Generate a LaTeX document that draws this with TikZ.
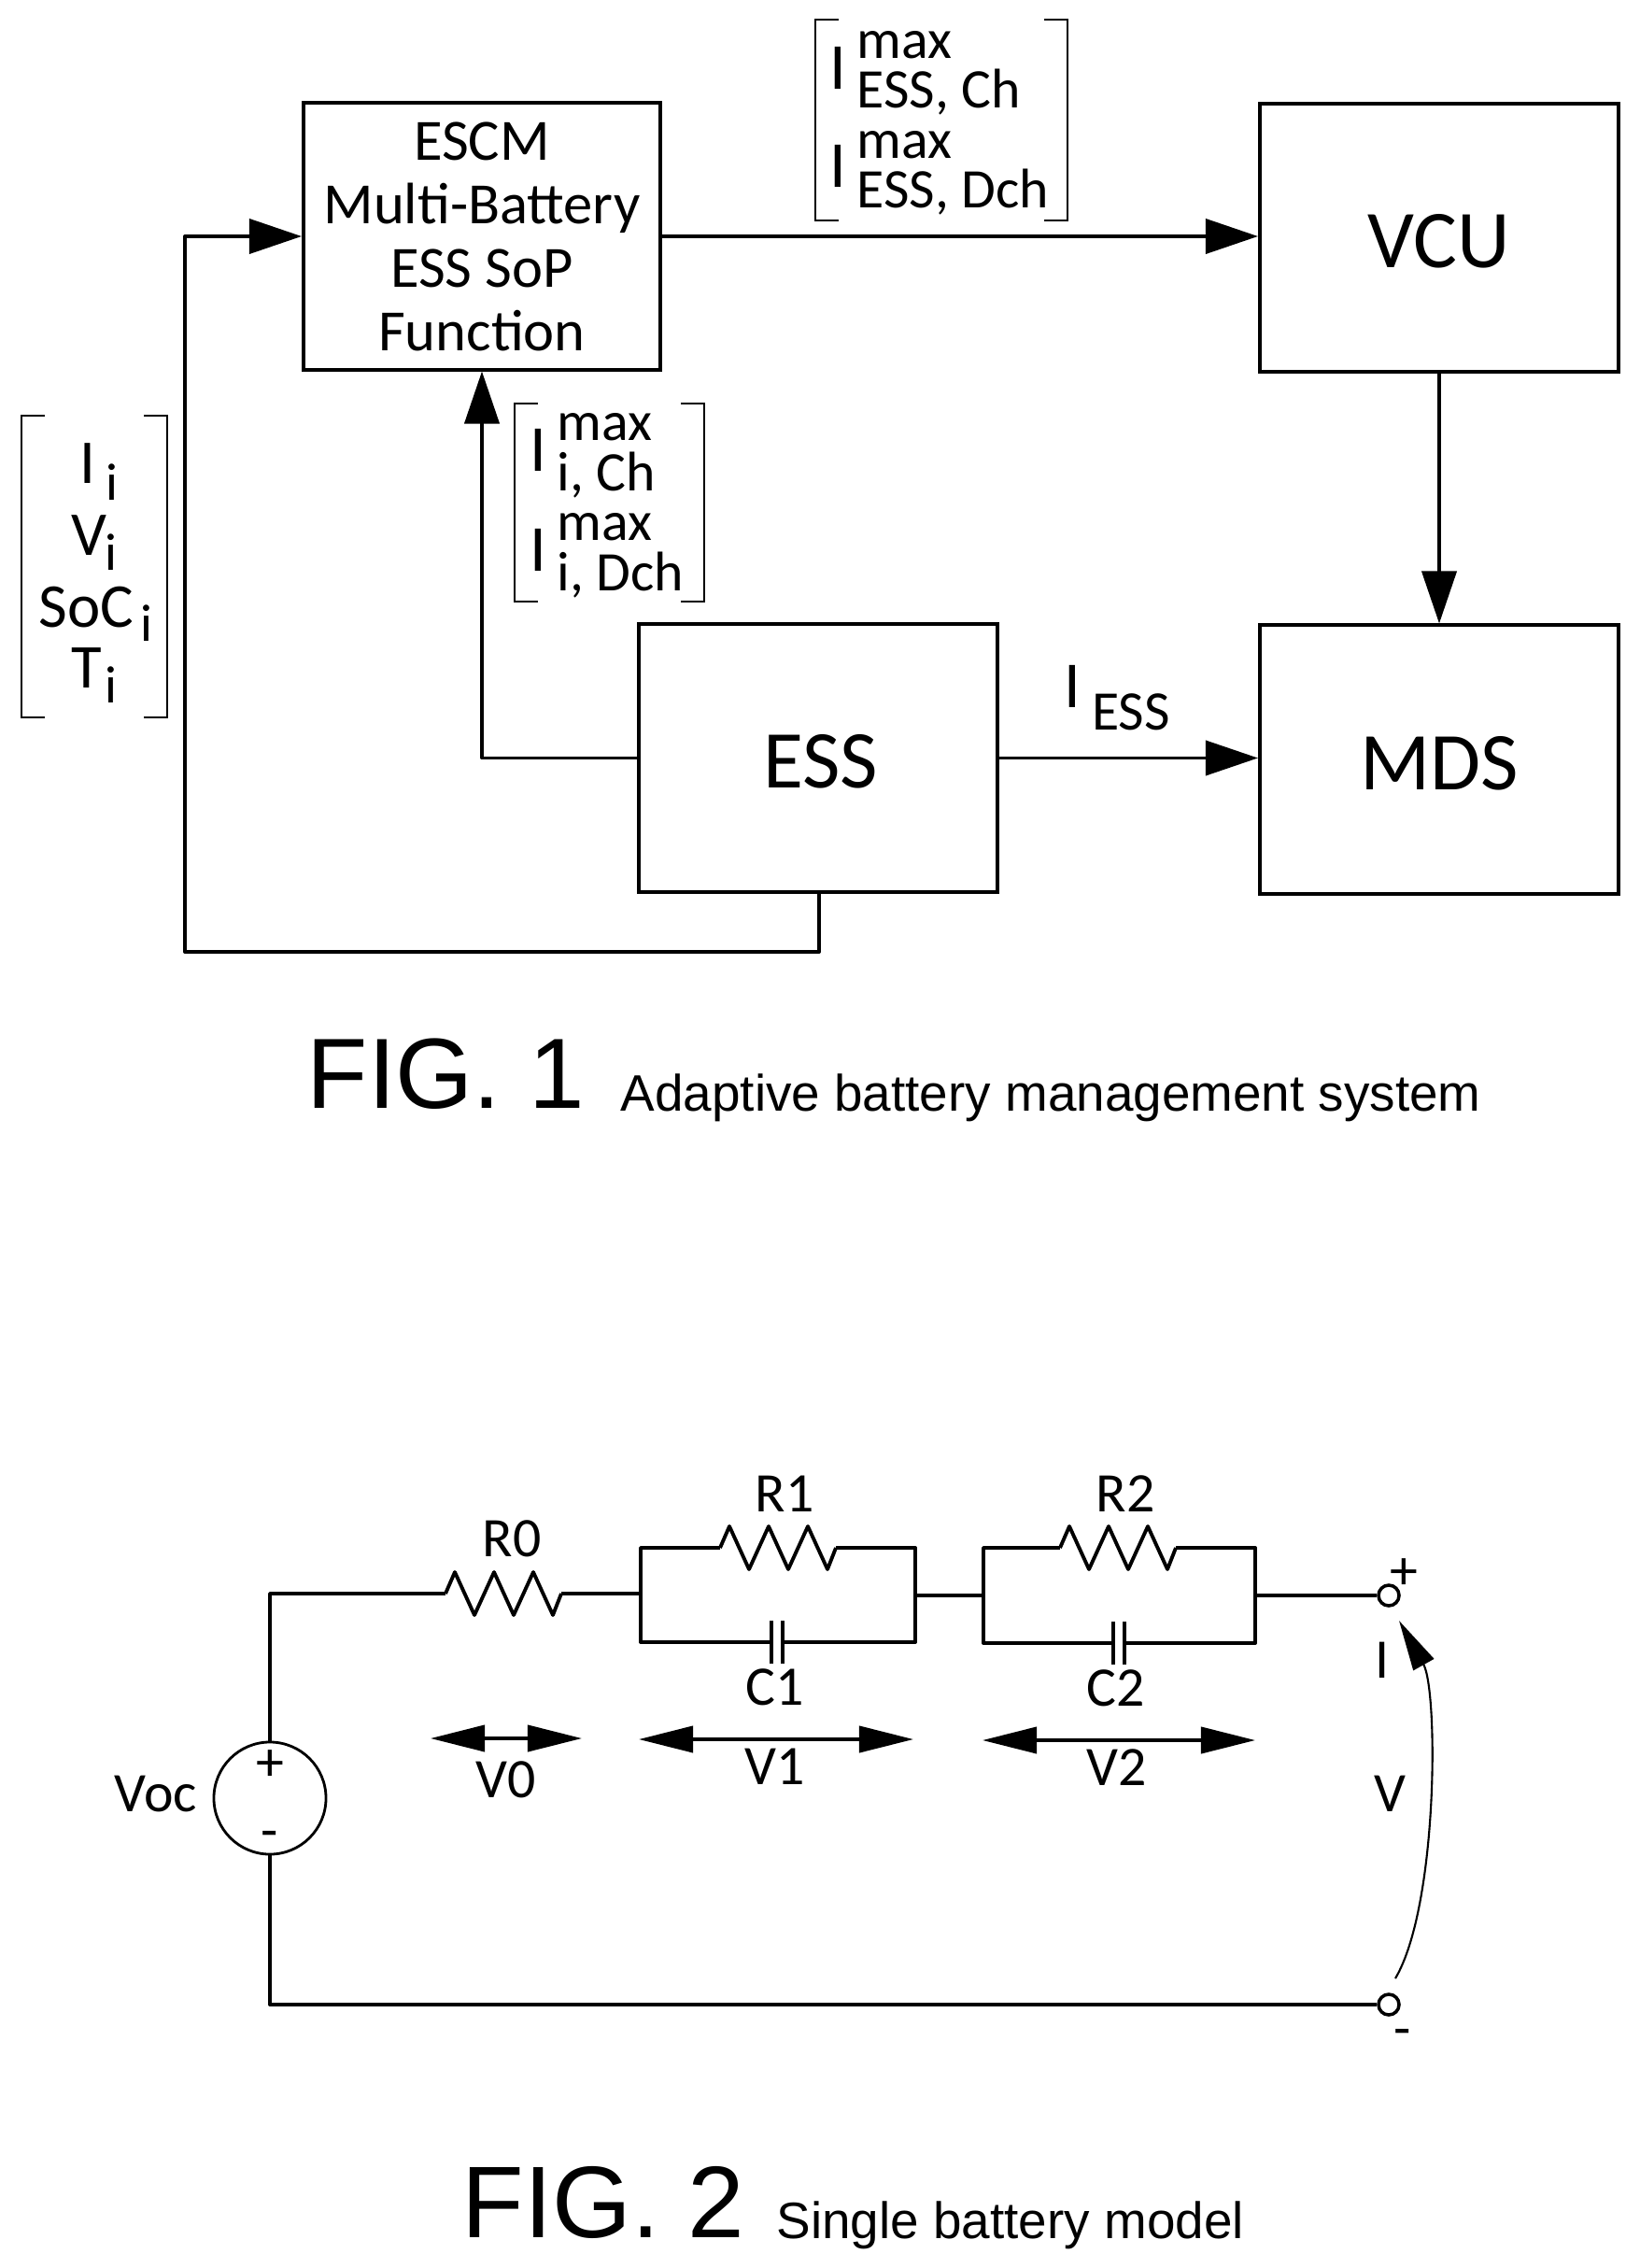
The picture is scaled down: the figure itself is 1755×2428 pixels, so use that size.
\documentclass[tikz,border=0pt]{standalone}
\usepackage{fontspec}
\setmainfont{Carlito}
\newfontfamily\figfont{Liberation Sans}
\usetikzlibrary{arrows.meta}

\newcommand{\lowi}[2]{\hspace{#1}\raisebox{-#2}{\fontsize{16}{16}\selectfont i}}
\newcommand{\resistor}[1]{\draw[wire] (#1) -- ++(10,-23) -- ++(21,46) -- ++(21,-46) -- ++(21,46) -- ++(21,-46) -- ++(21,46) -- ++(9,-23);}

\tikzset{
  block/.style={draw, line width=1.1pt, inner sep=0pt, minimum width=3.84cm, minimum height=2.87cm},
  bigtext/.style={font=\fontsize{25}{28}\selectfont, text height=18.6pt},
  smalltext/.style={font=\fontsize{17}{19.35}\selectfont, inner sep=0pt},
  stacktext/.style={font=\fontsize{19}{22}\selectfont, inner sep=0pt, anchor=base west},
  tall/.style={font=\fontsize{20}{22}\selectfont, inner sep=0pt},
  wire/.style={line width=1.1pt, line join=round},
  flow/.style={line width=1.1pt, line join=round, -{Triangle[length=0.56cm, width=0.37cm]}},
  span/.style={line width=1.1pt, {Triangle[length=0.58cm, width=0.28cm]}-{Triangle[length=0.58cm, width=0.28cm]}},
  swing/.style={line width=0.6pt, -{Triangle[length=0.54cm, width=0.25cm]}},
  bracket/.style={line width=0.8pt},
  terminal/.style={draw, circle, line width=1pt, inner sep=0pt, minimum size=0.22cm},
  bigcaption/.style={font=\figfont\fontsize{31}{34}\selectfont, inner sep=0pt, anchor=base west},
  subcaption/.style={font=\figfont\fontsize{15.6}{18}\selectfont, inner sep=0pt, anchor=base west}
}

\begin{document}
\begin{tikzpicture}[x=0.01cm, y=-0.01cm]
\useasboundingbox (0,0) rectangle (1755,2428);

% Blocks
\node[block, minimum width=3.82cm, minimum height=2.85cm, font=\fontsize{17.8}{19.35}\selectfont, align=center] (escm) at (516,253)
    {ESCM\\Multi-Battery\\ESS SoP\\Function};
\node[block, bigtext] (vcu) at (1541,254.5) {VCU};
\node[block, bigtext] (ess) at (876,811.5) {\hspace{1.6pt}ESS};
\node[block, bigtext] (mds) at (1541,813) {MDS\hspace{2pt}};

% Connectors
\coordinate (loopa) at (877,1019);
\coordinate (loopb) at (198,1019);
\draw[flow] (escm.east) -- (escm.east -| vcu.west);
\draw[flow] (vcu.south) -- (mds.north);
\draw[flow] (ess.east) -- (ess.east -| mds.west);
\draw[flow] (ess.west) -| (escm.south);
\draw[flow] (ess.south -| loopa) -- (loopa) -- (loopb) |- (escm.west);

% Brackets
\foreach \lx/\rx/\ty/\by in {23/179/445/768, 551/754/432/644, 873/1143/21/236} {
  \draw[bracket] (\lx+25,\ty) -| (\lx,\by) -- (\lx+25,\by);
  \draw[bracket] (\rx-25,\ty) -| (\rx,\by) -- (\rx-25,\by);
}

% Inputs of the ESCM
\node[stacktext] (ii) at (85,518) {I\lowi{3pt}{5pt}};
\node[stacktext] (vi) at (76,594) {V\lowi{-0.5pt}{4.8pt}};
\node[stacktext] (soci) at (41,671) {SoC\lowi{2pt}{4.3pt}};
\node[stacktext] (ti) at (76,736) {T\lowi{1pt}{4.7pt}};

% Limits of one battery
\node[tall] (ilimc) at (576,482) {I};
\node[tall] (ilimd) at (576,589) {I};
\node[smalltext, anchor=base west] (maxc) at (596,472) {max};
\node[smalltext, anchor=base west] (subc) at (596,525.5) {i, Ch};
\node[smalltext, anchor=base west] (maxd) at (596,579) {max};
\node[smalltext, anchor=base west] (subd) at (596,632.5) {i, Dch};

% Limits of the ESS
\node[tall] (elimc) at (897,73) {I};
\node[tall] (elimd) at (897,178) {I};
\node[smalltext, anchor=base west] (emaxc) at (917,63) {max};
\node[smalltext, anchor=base west] (esubc) at (917,116) {ESS, Ch};
\node[smalltext, anchor=base west] (emaxd) at (917,170) {max};
\node[smalltext, anchor=base west] (esubd) at (917,223) {ESS, Dch};

% Current of the ESS
\node[tall] (iess) at (1148,735) {I};
\node[smalltext] (iesssub) at (1211,762) {ESS};

% Captions
\node[bigcaption, font=\figfont\fontsize{30.4}{34}\selectfont] (figone) at (328,1186) {FIG. 1};
\node[subcaption] (figonesub) at (664,1189) {Adaptive battery management system};
\node[bigcaption] (figtwo) at (494,2395) {FIG. 2};
\node[subcaption] (figtwosub) at (831,2396) {Single battery model};

% Source and terminals
\node[draw, circle, line width=0.8pt, inner sep=0pt, minimum size=1.2cm] (vsrc) at (289,1925) {};
\node[terminal] (ptop) at (1487,1708) {};
\node[terminal] (pbot) at (1487,2146) {};

% Circuit points
\coordinate (r0a) at (477,1706);
\coordinate (r0b) at (601,1706);
\coordinate (r1a) at (771,1657);
\coordinate (r1b) at (895,1657);
\coordinate (r2a) at (1135,1657);
\coordinate (r2b) at (1259,1657);
\coordinate (c1a) at (826,1758);
\coordinate (c1b) at (838,1758);
\coordinate (c2a) at (1192,1759);
\coordinate (c2b) at (1204,1759);
\coordinate (tla) at (686,1657);
\coordinate (bla) at (686,1758);
\coordinate (tra) at (980,1657);
\coordinate (bra) at (980,1758);
\coordinate (tlb) at (1053,1657);
\coordinate (blb) at (1053,1759);
\coordinate (trb) at (1344,1657);
\coordinate (brb) at (1344,1759);

% Resistors
\resistor{r0a}
\resistor{r1a}
\resistor{r2a}

% Capacitor plates
\foreach \plate in {c1a, c1b, c2a, c2b} {
  \draw[wire] (\plate) ++(0,-23) -- ++(0,46);
}

% Wires
\draw[wire] (vsrc.north) |- (r0a);
\draw[wire] (r0b) -- (r0b -| tla);
\draw[wire] (r1a) -- (tla) -- (bla) -- (c1a);
\draw[wire] (c1b) -- (bra) -- (tra) -- (r1b);
\draw[wire] (r2a) -- (tlb) -- (blb) -- (c2a);
\draw[wire] (c2b) -- (brb) -- (trb) -- (r2b);
\draw[wire] (tra |- ptop) -- (tlb |- ptop);
\draw[wire] (trb |- ptop) -- (ptop.west);
\draw[wire] (vsrc.south) |- (pbot.west);

% Voltage spans
\coordinate (v0a) at (461,1861);
\coordinate (v0b) at (623,1861);
\coordinate (v1a) at (684,1862);
\coordinate (v1b) at (978,1862);
\coordinate (v2a) at (1052,1863);
\coordinate (v2b) at (1344,1863);
\draw[span] (v0a) -- (v0b);
\draw[span] (v1a) -- (v1b);
\draw[span] (v2a) -- (v2b);

% Terminal voltage
\coordinate (vend) at (1494,2118);
\coordinate (vtip) at (1498,1735);
\draw[swing] (vend) .. controls (1540,2040) and (1540,1810) .. (vtip);

% Circuit labels
\node[smalltext] (lr0) at (548,1647) {R0};
\node[smalltext] (lr1) at (840,1599) {R1};
\node[smalltext] (lr2) at (1205,1599) {R2};
\node[smalltext] (lc1) at (830,1806) {C1};
\node[smalltext] (lc2) at (1195,1807) {C2};
\node[smalltext] (lv0) at (542,1905) {V0};
\node[smalltext] (lv1) at (830,1891) {V1};
\node[smalltext] (lv2) at (1196,1892) {V2};
\node[smalltext] (lvoc) at (167,1921) {Voc};
\node[smalltext] (lcur) at (1480,1777) {I};
\node[smalltext] (lvolt) at (1488,1920) {V};
\node[smalltext] (splus) at (289,1890) {+};
\node[smalltext] (sminus) at (289,1970) {-};
\node[smalltext] (tplus) at (1503,1685) {+};
\node[smalltext] (tminus) at (1502,2182) {-};
\end{tikzpicture}
\end{document}
